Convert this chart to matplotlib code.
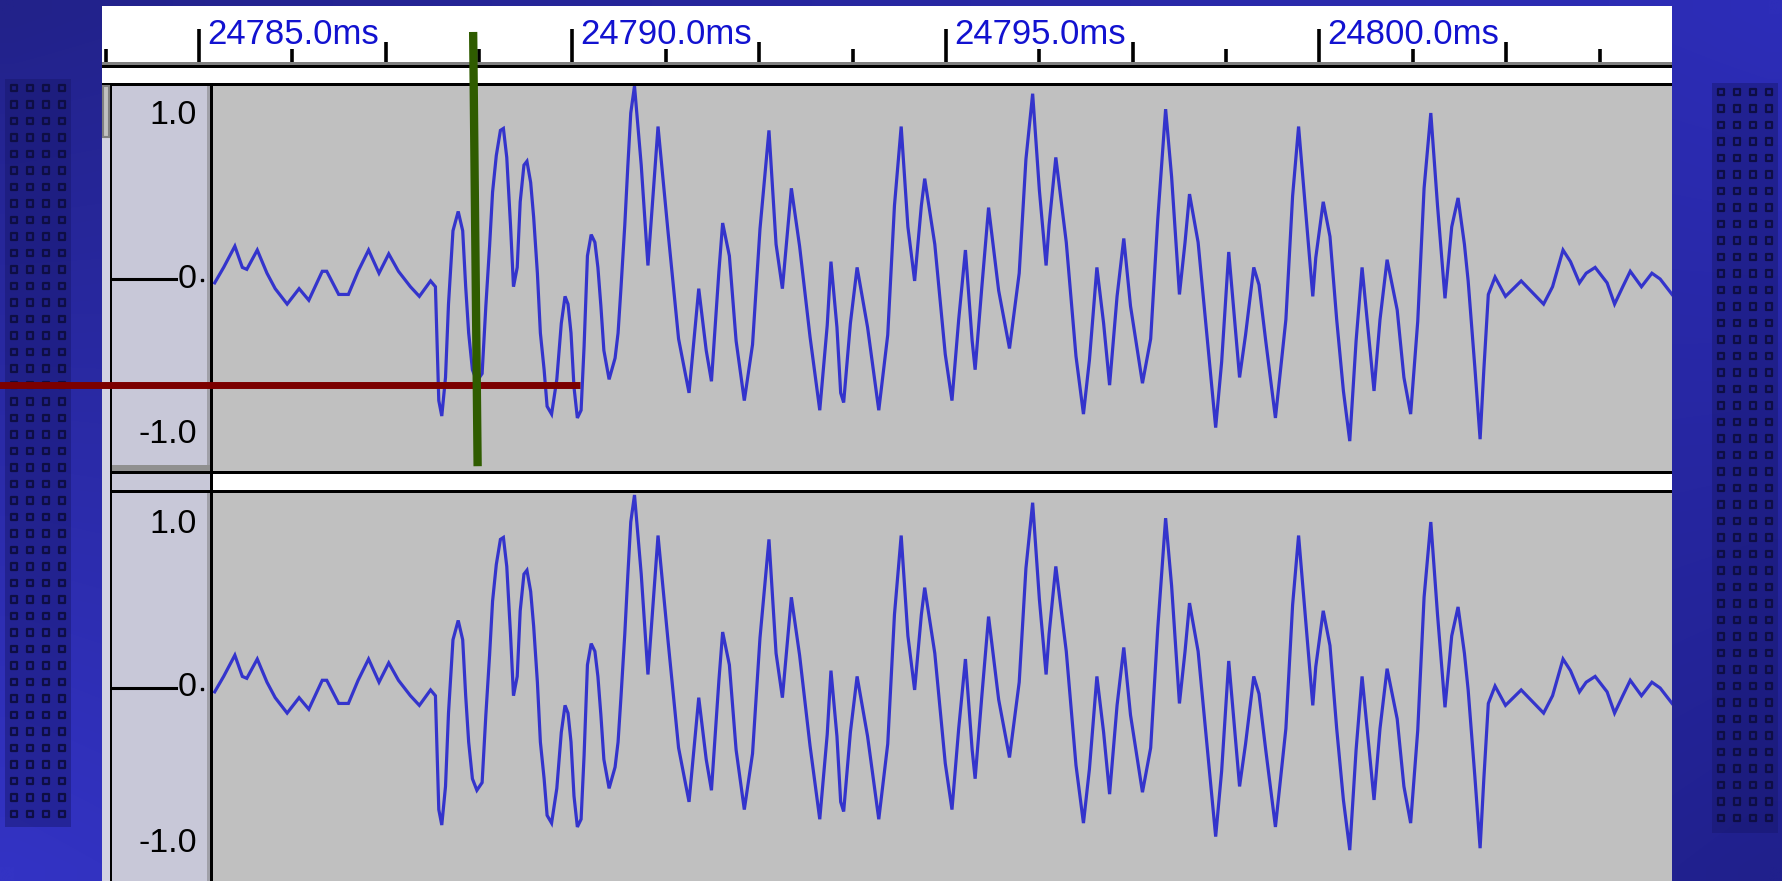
import numpy as np
import matplotlib.pyplot as plt
import matplotlib.colors as mcolors
from matplotlib.patches import Rectangle

plt.rcParams['font.family'] = ['Liberation Sans', 'DejaVu Sans']

W, H = 1783, 881
T0 = 24785.0      # ms at the first labelled tick
PX_MS = 74.7      # ruler scale, pixels per ms
X_T0 = 199        # pixel column of the 24785.0 ms tick
HALF = 193        # pixels from 0 to 1.0 in a track

# waveform: ms after 24785.0, sample level
t_off = [0.21, 0.33, 0.48, 0.58, 0.64, 0.78, 0.91, 1.02, 1.18, 1.34, 1.47, 1.65, 1.71, 1.87,
         2.00, 2.13, 2.27, 2.41, 2.54, 2.67, 2.83, 2.95,
         3.10, 3.165, 3.21, 3.25, 3.30, 3.34, 3.40, 3.47, 3.53, 3.57, 3.61, 3.66, 3.72, 3.79,
         3.84, 3.89, 3.93, 3.98, 4.035, 4.075, 4.12, 4.17, 4.21, 4.26, 4.30, 4.35, 4.39, 4.44,
         4.48, 4.53, 4.57, 4.62, 4.66, 4.72, 4.79, 4.85, 4.90, 4.94, 4.98, 5.02, 5.065, 5.115,
         5.155, 5.20, 5.25, 5.30, 5.34, 5.38, 5.42, 5.49, 5.57, 5.61, 5.65, 5.70, 5.74, 5.78,
         5.83, 5.92, 6.01, 6.145, 6.28, 6.42, 6.56, 6.645, 6.69, 6.79, 6.86, 6.96, 7.01, 7.10,
         7.19, 7.30, 7.41, 7.51, 7.63, 7.725, 7.81, 7.93, 8.04, 8.18, 8.31, 8.41, 8.46, 8.54, 8.59,
         8.63, 8.72, 8.81, 8.95, 9.10, 9.22, 9.31, 9.40, 9.49, 9.58, 9.67, 9.715, 9.85, 9.99,
         10.08, 10.17, 10.26, 10.35, 10.39, 10.48, 10.57, 10.705, 10.85, 10.98, 11.07, 11.16,
         11.25, 11.34, 11.38,
         11.47, 11.61, 11.74, 11.84, 11.92, 12.02, 12.11, 12.19, 12.29, 12.38, 12.47, 12.63,
         12.74, 12.835, 12.94, 13.02, 13.125, 13.20, 13.26, 13.375, 13.51, 13.61, 13.69, 13.785,
         13.87, 13.93, 14.01, 14.12, 14.19,
         14.28, 14.41, 14.55, 14.64, 14.72, 14.82, 14.91, 14.95, 15.05, 15.14, 15.23, 15.32,
         15.405, 15.49, 15.57, 15.68, 15.73, 15.81, 15.905, 16.04, 16.13, 16.22, 16.315, 16.40,
         16.49, 16.58, 16.68, 16.77, 16.855, 16.94, 16.99,
         17.03, 17.08, 17.15, 17.20, 17.26, 17.35, 17.49, 17.70, 17.85, 18.00, 18.12, 18.26,
         18.36, 18.48, 18.57, 18.69, 18.85, 18.95, 19.06, 19.16, 19.31, 19.45, 19.56, 19.66, 19.72]
level = [-0.02, 0.06, 0.17, 0.06, 0.05, 0.15, 0.03, -0.05, -0.13, -0.05, -0.11, 0.04, 0.04, -0.08,
         -0.08, 0.04, 0.15, 0.03, 0.13, 0.04, -0.04, -0.09,
         -0.01, -0.04, -0.63, -0.71, -0.51, -0.13, 0.25, 0.35, 0.25, -0.04, -0.28, -0.47, -0.53, -0.49,
         -0.14, 0.17, 0.45, 0.64, 0.77, 0.78, 0.63, 0.28, -0.04, 0.06, 0.40, 0.59, 0.61, 0.50,
         0.32, 0.03, -0.28, -0.47, -0.66, -0.70, -0.52, -0.23, -0.09, -0.13, -0.28, -0.56, -0.72, -0.68,
         -0.35, 0.12, 0.23, 0.19, 0.06, -0.14, -0.37, -0.52, -0.41, -0.28, -0.04, 0.28, 0.58, 0.86,
         1.00, 0.59, 0.07, 0.79, 0.24, -0.31, -0.59, -0.24, -0.05, -0.37, -0.53, 0.04, 0.29, 0.12,
         -0.32, -0.63, -0.34, 0.26, 0.77, 0.18, -0.05, 0.47, 0.17, -0.30, -0.68, -0.24, 0.09, -0.25, -0.59,
         -0.64, -0.23, 0.06, -0.25, -0.68, -0.29, 0.38, 0.79, 0.27, -0.01, 0.38, 0.52, 0.18, -0.39,
         -0.63, -0.21, 0.15, -0.32, -0.47, -0.04, 0.37, -0.06, -0.36, 0.03, 0.62, 0.96,
         0.46, 0.07, 0.28,
         0.63, 0.19, -0.40, -0.70, -0.42, 0.06, -0.23, -0.55, -0.09, 0.21, -0.14, -0.54,
         -0.31, 0.31, 0.88, 0.53, -0.08, 0.19, 0.44, 0.19, -0.36, -0.77, -0.43, 0.14,
         -0.24, -0.51, -0.29, 0.06, -0.03,
         -0.32, -0.72, -0.21, 0.43, 0.79, 0.33, -0.09, 0.11, 0.40, 0.22, -0.21, -0.58,
         -0.84, -0.32, 0.06, -0.38, -0.58, -0.21, 0.10, -0.16, -0.51, -0.70, -0.22, 0.47,
         0.86, 0.38, -0.10, 0.27, 0.42, 0.18, -0.01,
         -0.21, -0.46, -0.83, -0.47, -0.08, 0.01, -0.09, -0.01, -0.07, -0.13, -0.04, 0.15,
         0.09, -0.02, 0.03, 0.06, -0.02, -0.13, -0.04, 0.04, -0.04, 0.03, 0.00, -0.05, -0.08]
channels = [level, level]   # both channels show the same signal

major_ms = [24785.0, 24790.0, 24795.0, 24800.0]
scale_labels = ['1.0', '0', '-1.0']

# hand-drawn markers on the screenshot
cursor_ms = [24788.67, 24788.73]   # green line, top and bottom
cursor_lv = [1.28, -0.97]
red_ms = [24782.3, 24790.1]        # red line, start and end
red_lv = -0.55


def ms(px):
    return T0 + (px - X_T0) / PX_MS


def box(x0, y0, x1, y1):
    return [x0 / W, 1 - y1 / H, (x1 - x0) / W, (y1 - y0) / H]


fig = plt.figure(figsize=(W / 100, H / 100), dpi=100)
bg = fig.add_axes([0, 0, 1, 1])

# slide background gradient
tl, tr, bl, br = [np.array(mcolors.to_rgb(c)) for c in ('#22228a', '#2d2db8', '#3333c4', '#20208c')]
u = np.linspace(0, 1, 64)[None, :, None]
v = np.linspace(0, 1, 32)[:, None, None]
grad = (1 - v) * ((1 - u) * tl + u * tr) + v * ((1 - u) * bl + u * br)
bg.imshow(grad, extent=(0, W, H, 0), aspect='auto', interpolation='bilinear', zorder=0)
bg.set_xlim(0, W)
bg.set_ylim(H, 0)
bg.axis('off')


def rect(x0, y0, x1, y1, c, z=1, ec='none'):
    bg.add_patch(Rectangle((x0, y0), x1 - x0, y1 - y0, fc=c, ec=ec, lw=1.5, zorder=z))


def dots(cols, y0, y1):
    rect(cols[0] - 9, y0 - 9, cols[-1] + 9, y1 + 9, '#16166a')
    bg.patches[-1].set_alpha(0.45)
    ys = np.arange(y0, y1, 16.5)
    for x in cols:
        bg.scatter(np.full(len(ys), x), ys, marker='s', s=20, facecolor='none',
                   edgecolor='#0e0e44', lw=1.6, zorder=2)


dots([14, 30, 46, 62], 88, 818)
dots([1721, 1737, 1753, 1769], 92, 824)

# Audacity window
rect(102, 6, 1672, 881, 'white')
rect(102, 62, 1672, 65, '#808080')
rect(102, 65, 1672, 68, 'black')
rect(102, 83, 1672, 86, 'black')
rect(102, 86, 110, 881, '#d2d2e2')
rect(103, 86, 109, 137, '#c0c0c0', z=2, ec='#808080')
rect(110, 83, 112, 881, 'black')
for top, bot in [(86, 471), (493, 881)]:
    rect(112, top, 210, bot, '#c8c8d8')
    rect(207, top, 210, bot, '#a0a0a8')
rect(112, 465, 210, 471, '#909090')
rect(112, 474, 210, 490, '#c8c8d8')
rect(210, 83, 213, 881, 'black')
rect(110, 471, 1672, 474, 'black')
rect(110, 490, 1672, 493, 'black')

# vertical scale labels
for zero in (279, 688):
    bg.text(197, zero - HALF + 14, scale_labels[0], ha='right', va='top', fontsize=24.5, zorder=3)
    bg.text(197, zero + HALF - 22, scale_labels[2], ha='right', va='bottom', fontsize=24.5, zorder=3)
    bg.text(197, zero, scale_labels[1], ha='right', va='center', fontsize=24.5, zorder=3)
    bg.plot([113, 176], [zero, zero], color='black', lw=2.2, zorder=3)
    bg.plot([202], [zero + 1], marker='s', ms=1.8, color='black', zorder=3)

# time ruler
axr = fig.add_axes(box(102, 6, 1672, 62))
axr.set_facecolor('none')
axr.set_xlim(ms(102), ms(1672))
axr.set_ylim(62, 6)
axr.axis('off')
ticks = T0 + np.arange(-1.25, 19.0, 1.25)
for p in ticks:
    k = int(round((p - T0) / 1.25))
    top = 29 if k % 4 == 0 else (42 if k % 2 == 0 else 49)
    axr.vlines(p, top, 62, color='black', lw=2.6)
for m in major_ms:
    axr.text(m + 8 / PX_MS, 44, f'{m:.1f}ms', color='#1212d0', fontsize=25,
             ha='left', va='baseline')

# the two channels
tracks = []
for (top, bot, zero), lv in zip([(86, 471, 279), (493, 881, 688)], channels):
    ax = fig.add_axes(box(213, top, 1672, bot))
    ax.set_facecolor('#c0c0c0')
    ax.set_xlim(ms(213), ms(1672))
    ax.set_ylim(-(bot - zero) / HALF, (zero - top) / HALF)
    ax.set_xticks([])
    ax.set_yticks([])
    for s in ax.spines.values():
        s.set_visible(False)
    ax.plot(T0 + np.array(t_off), lv, color='#3434cc', lw=2.3, solid_joinstyle='miter')
    tracks.append(ax)

ax1 = tracks[0]
ax1.set_zorder(5)
ax1.plot(red_ms, [red_lv, red_lv], color='#7c0000', lw=5, clip_on=False,
         solid_capstyle='butt', zorder=10)
ax1.plot(cursor_ms, cursor_lv, color='#2f5c00', lw=6, clip_on=False,
         solid_capstyle='butt', zorder=11)

fig.savefig('out.png', dpi=100)
